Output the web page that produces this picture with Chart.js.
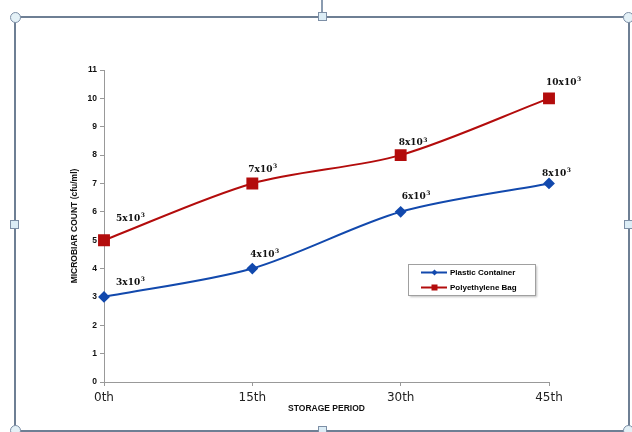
<!DOCTYPE html>
<html>
<head>
<meta charset="utf-8">
<script src="https://cdn.jsdelivr.net/npm/chart.js@4/dist/chart.umd.min.js"></script>
<style>
    body { margin: 0; background: #fff; }
    #wrap { position: relative; width: 632px; height: 432px; overflow: hidden; }
    canvas { position: absolute; left: 0; top: 0; }
    .frame { position: absolute; left: 14px; top: 16px; width: 612px; height: 412px; border: 2px solid #6e7f94; pointer-events: none; }
    .stem { position: absolute; left: 321px; top: 0; width: 2px; height: 14px; background: #8a9bb0; }
    .knob { position: absolute; width: 9px; height: 9px; border-radius: 50%; background: #e4f1f7; border: 1px solid #7d8fa6; }
    .sq { position: absolute; width: 7px; height: 7px; background: #dcedf6; border: 1px solid #7d8fa6; }
</style>
</head>
<body>
<div id="wrap">
    <canvas id="chart" width="632" height="432"></canvas>
    <div class="frame"></div>
    <div class="stem"></div>
    <div class="knob" style="left:10px;top:12px"></div>
    <div class="knob" style="left:623px;top:12px"></div>
    <div class="knob" style="left:10px;top:425px"></div>
    <div class="knob" style="left:623px;top:425px"></div>
    <div class="sq" style="left:318px;top:12px"></div>
    <div class="sq" style="left:10px;top:220px"></div>
    <div class="sq" style="left:624px;top:220px"></div>
    <div class="sq" style="left:318px;top:426px"></div>
</div>
<script>
const periods = ['0th', '15th', '30th', '45th'];
const plasticCounts = [3, 4, 6, 7];
const polyCounts = [5, 7, 8, 10];
const plasticText = ['3', '4', '6', '8'];
const polyText = ['5', '7', '8', '10'];
const yMin = 0;
const yMax = 11;

const BLUE = '#1249ad';
const RED = '#b30c0c';

// where each value label sits, relative to its point
const labelShift = [
    [[12, -14], [-2, -14], [1, -15], [-7, -10]],
    [[12, -22], [-4, -14], [-2, -12], [-3, -16]],
];
const labelTexts = [plasticText, polyText];

const valueLabels = {
    id: 'valueLabels',
    afterDatasetsDraw(chart) {
        const ctx = chart.ctx;
        ctx.save();
        ctx.fillStyle = '#111';
        ctx.textBaseline = 'middle';
        ctx.textAlign = 'left';
        chart.data.datasets.forEach((ds, i) => {
            chart.getDatasetMeta(i).data.forEach((pt, j) => {
                const x = pt.x + labelShift[i][j][0];
                const y = pt.y + labelShift[i][j][1];
                const base = labelTexts[i][j] + 'x10';
                ctx.font = 'bold 9px "DejaVu Serif"';
                ctx.fillText(base, x, y);
                const w = ctx.measureText(base).width;
                ctx.font = 'bold 6px "DejaVu Serif"';
                ctx.fillText('3', x + w + 0.5, y - 3);
            });
        });
        ctx.restore();
    },
};

const boxLegend = {
    id: 'boxLegend',
    afterDraw(chart) {
        const ctx = chart.ctx;
        ctx.save();
        ctx.shadowColor = 'rgba(0,0,0,0.25)';
        ctx.shadowOffsetX = 1;
        ctx.shadowOffsetY = 1;
        ctx.shadowBlur = 2;
        ctx.fillStyle = '#fff';
        ctx.fillRect(408.5, 264.5, 127, 31);
        ctx.shadowColor = 'transparent';
        ctx.strokeStyle = '#a0a0a0';
        ctx.lineWidth = 1;
        ctx.strokeRect(408.5, 264.5, 127, 31);
        chart.data.datasets.forEach((ds, i) => {
            const y = 272.5 + i * 15;
            ctx.strokeStyle = ds.borderColor;
            ctx.lineWidth = 2;
            ctx.beginPath();
            ctx.moveTo(421, y);
            ctx.lineTo(447, y);
            ctx.stroke();
            ctx.fillStyle = ds.borderColor;
            ctx.beginPath();
            if (ds.pointStyle === 'rect') {
                ctx.rect(431.5, y - 3, 6, 6);
            } else {
                ctx.moveTo(434.5, y - 3);
                ctx.lineTo(437.5, y);
                ctx.lineTo(434.5, y + 3);
                ctx.lineTo(431.5, y);
                ctx.closePath();
            }
            ctx.fill();
            ctx.fillStyle = '#000';
            ctx.font = 'bold 8px "Liberation Sans"';
            ctx.textBaseline = 'middle';
            ctx.fillText(ds.label, 450, y);
        });
        ctx.restore();
    },
};

new Chart(document.getElementById('chart'), {
    type: 'line',
    data: {
        labels: periods,
        datasets: [
            {
                label: 'Plastic Container',
                data: plasticCounts,
                borderColor: BLUE,
                backgroundColor: BLUE,
                borderWidth: 2,
                tension: 0.3,
                pointStyle: 'rectRot',
                pointRadius: 4.5,
                pointHoverRadius: 4.5,
            },
            {
                label: 'Polyethylene Bag',
                data: polyCounts,
                borderColor: RED,
                backgroundColor: RED,
                borderWidth: 2,
                tension: 0.3,
                pointStyle: 'rect',
                pointRadius: 7,
                pointHoverRadius: 7,
            },
        ],
    },
    options: {
        responsive: false,
        animation: false,
        layout: { padding: { left: 66, right: 83, top: 70, bottom: 16 } },
        plugins: {
            legend: { display: false },
            tooltip: { enabled: false },
        },
        scales: {
            x: {
                offset: false,
                afterFit: s => { s.height = 34; },
                grid: { drawOnChartArea: false, drawTicks: true, tickLength: 4, color: '#999' },
                border: { color: '#999', width: 1 },
                ticks: { padding: 5, color: '#222', font: { family: 'DejaVu Sans', size: 12 } },
                title: {
                    display: true,
                    text: 'STORAGE PERIOD',
                    color: '#111',
                    padding: { top: 2, bottom: 2 },
                    font: { family: 'Liberation Sans', size: 8.5, weight: 'bold' },
                },
            },
            y: {
                min: yMin,
                max: yMax,
                afterFit: s => { s.width = 38; },
                grid: { drawOnChartArea: false, drawTicks: true, tickLength: 4, color: '#999' },
                border: { color: '#999', width: 1 },
                ticks: { stepSize: 1, padding: 3, color: '#111', font: { family: 'Liberation Sans', size: 8.5, weight: 'bold' } },
                title: {
                    display: true,
                    text: 'MICROBIAR COUNT (cfu/ml)',
                    color: '#111',
                    padding: 4,
                    font: { family: 'Liberation Sans', size: 8.5, weight: 'bold' },
                },
            },
        },
    },
    plugins: [valueLabels, boxLegend],
});
</script>
</body>
</html>
